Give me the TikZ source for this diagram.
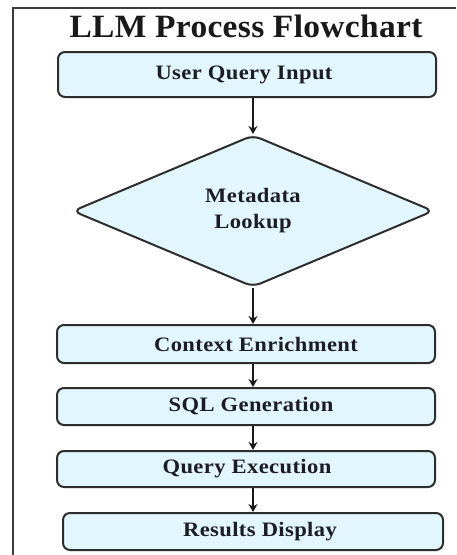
\documentclass[tikz,border=0pt]{standalone}
\usepackage{fontspec}
\setmainfont{Liberation Serif}
\newfontfamily\boxfont[FakeStretch=1.1,LetterSpace=2]{Liberation Serif}
\newfontfamily\titlefont[FakeStretch=1.03,LetterSpace=1]{Liberation Serif}
\usetikzlibrary{shapes.geometric,arrows.meta}
\definecolor{boxfill}{RGB}{226,246,253}
\definecolor{boxline}{RGB}{45,45,45}
\definecolor{txt}{RGB}{28,28,36}
\definecolor{frameline}{RGB}{60,60,60}
\tikzset{
  stepbox/.style={draw=boxline, fill=boxfill, line width=2pt, rounded corners=7pt,
    minimum width=378pt, inner sep=0pt, text=txt, font=\boxfont\bfseries\fontsize{20.5}{26}\selectfont},
  decision/.style={diamond, draw=boxline, fill=boxfill, line width=2pt, rounded corners=8pt,
    minimum width=361pt, minimum height=152pt, inner sep=0pt, text=txt, align=center,
    font=\boxfont\bfseries\fontsize{20.5}{26}\selectfont},
  flow/.style={draw=black!90, line width=2.4pt, -{Stealth[length=8pt,width=9pt]}}
}
\begin{document}
\begin{tikzpicture}[x=1pt,y=-1pt]
\useasboundingbox (0,0) rectangle (456,555);
\fill[white] (0,0) rectangle (456,555);
\draw[frameline, line width=1.6pt] (13,555) -- (13,8) -- (456,8);
\node[text=black!90, font=\titlefont\bfseries\fontsize{32.5}{36}\selectfont] (title) at (246,26) {LLM Process Flowchart};
\node[stepbox, minimum height=45pt] (input) at (247,74.5) {User Query Input\hspace*{6pt}};
\node[decision] (meta) at (253,211) {Metadata\\Lookup};
\node[stepbox, minimum height=38pt] (ctx) at (246,344) {\hspace*{20pt}Context Enrichment};
\node[stepbox, minimum height=37pt] (sql) at (246,406.5) {\hspace*{10pt}SQL Generation};
\node[stepbox, minimum height=36pt] (exec) at (246,469) {\hspace*{2pt}Query Execution};
\node[stepbox, minimum height=37pt, minimum width=380pt] (res) at (253,531.5) {\hspace*{14pt}Results Display};
\draw[flow] (input.south -| meta.north) -- (meta.north);
\draw[flow] (meta.south) -- (meta.south |- ctx.north);
\draw[flow] (ctx.south -| meta.south) -- (meta.south |- sql.north);
\draw[flow] (sql.south -| meta.south) -- (meta.south |- exec.north);
\draw[flow] (exec.south -| meta.south) -- (meta.south |- res.north);
\end{tikzpicture}
\end{document}
